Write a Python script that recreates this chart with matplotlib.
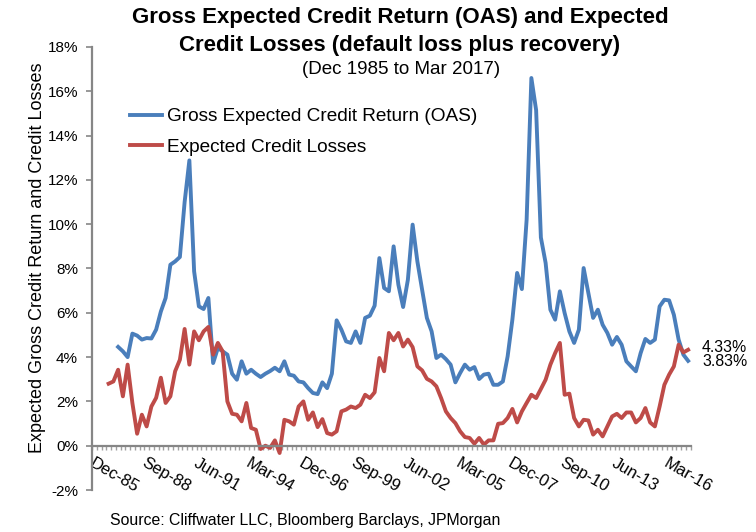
import numpy as np
import matplotlib
matplotlib.use("Agg")
import matplotlib.pyplot as plt

plt.rcParams['font.family'] = ['Liberation Sans', 'DejaVu Sans']

# Quarterly data, Dec-1985 .. Mar-2017 (126 quarters); NaN = no value
n_quarters = 126
oas = [np.nan] * 5 + [
    4.46, 4.26, 4.00, 5.06, 4.97, 4.79, 4.86, 4.84, 5.24, 6.06,
    6.67, 8.17, 8.32, 8.52, 11.0, 12.88, 7.87, 6.29, 6.17, 6.67,
    3.73, 4.41, 4.26, 4.11, 3.25, 2.98, 3.81, 3.25, 3.43, 3.25,
    3.10, 3.25, 3.37, 3.52, 3.36, 3.81, 3.21, 3.16, 2.90, 2.86,
    2.60, 2.38, 2.33, 2.86, 2.60, 3.25, 5.66, 5.24, 4.71, 4.64,
    5.16, 4.64, 5.77, 5.87, 6.32, 8.47, 7.12, 6.97, 9.00, 7.27,
    6.26, 7.49, 9.98, 8.32, 7.04, 5.77, 5.16, 3.96, 4.11, 3.91,
    3.66, 2.86, 3.28, 3.66, 3.43, 3.55, 3.01, 3.21, 3.25, 2.75,
    2.75, 2.90, 4.03, 5.69, 7.80, 7.07, 10.2, 16.6, 15.15, 9.4,
    8.25, 6.14, 5.69, 6.97, 5.99, 5.16, 4.64, 5.24, 8.02, 6.89,
    5.77, 6.14, 5.46, 5.09, 4.56, 4.91, 4.56, 3.81, 3.58, 3.36,
    4.18, 4.82, 4.64, 4.79, 6.29, 6.59, 6.56, 5.91, 4.79, 4.11,
    3.83]
losses = [np.nan] * 3 + [
    2.80, 2.90, 3.43, 2.23, 3.66, 1.93, 0.54, 1.40, 0.87, 1.77,
    2.16, 3.07, 1.93, 2.23, 3.36, 3.88, 5.27, 3.66, 5.16, 4.76,
    5.16, 5.36, 4.11, 4.64, 4.26, 2.00, 1.44, 1.40, 1.10, 1.93,
    0.80, 0.72, -0.15, 0.00, -0.10, 0.24, -0.33, 1.17, 1.10, 0.95,
    1.77, 2.00, 1.17, 1.50, 0.84, 1.20, 0.57, 0.50, 0.65, 1.55,
    1.63, 1.77, 1.70, 1.85, 2.30, 2.15, 2.41, 3.96, 3.36, 5.09,
    4.76, 5.09, 4.48, 4.79, 4.45, 3.58, 3.40, 3.02, 2.90, 2.68,
    2.15, 1.55, 1.25, 1.02, 0.65, 0.39, 0.35, 0.09, 0.35, 0.05,
    0.24, 0.24, 0.99, 1.02, 1.25, 1.66, 1.05, 1.55, 1.93, 2.30,
    2.15, 2.56, 2.98, 3.66, 4.18, 4.64, 2.30, 2.35, 1.25, 0.87,
    1.17, 1.14, 0.50, 0.72, 0.42, 0.87, 1.32, 1.44, 1.25, 1.50,
    1.50, 1.05, 1.25, 1.70, 1.05, 0.87, 1.77, 2.75, 3.21, 3.58,
    4.56, 4.21, 4.33]
tick_labels = ['Dec-85', 'Sep-88', 'Jun-91', 'Mar-94', 'Dec-96', 'Sep-99',
               'Jun-02', 'Mar-05', 'Dec-07', 'Sep-10', 'Jun-13', 'Mar-16']
tick_step = 11
end_labels = ['4.33%', '3.83%']

series_names = ['Gross Expected Credit Return (OAS)', 'Expected Credit Losses']
blue = '#4A7EBB'
red = '#BE4B48'
axis_gray = '#868686'

x = np.arange(n_quarters)

fig = plt.figure(figsize=(7.56, 5.32), dpi=100)
ax = fig.add_axes([92/756, 42/532, 598.5/756, 443/532])

l1, = ax.plot(x, oas, color=blue, lw=2.8, solid_joinstyle='round', label=series_names[0])
l2, = ax.plot(x, losses, color=red, lw=2.8, solid_joinstyle='round', label=series_names[1])

ax.set_xlim(-0.5, n_quarters - 0.5)
ax.set_ylim(-2, 18)
ax.set_yticks(np.arange(-2, 19, 2))
ax.set_yticklabels([f'{v}%' for v in range(-2, 19, 2)], fontsize=11)

ax.spines['top'].set_visible(False)
ax.spines['right'].set_visible(False)
ax.spines['bottom'].set_position(('data', 0))
for s in ('left', 'bottom'):
    ax.spines[s].set_color(axis_gray)
    ax.spines[s].set_linewidth(1.6)

ax.tick_params(axis='y', direction='out', length=4, width=1.2, color=axis_gray, pad=6)

ax.set_xticks(x[::tick_step])
ax.set_xticklabels(tick_labels, rotation=-30, ha='left', va='top',
                   rotation_mode='anchor', fontsize=12)
ax.set_xticks(np.arange(-0.5, n_quarters, 1), minor=True)
ax.tick_params(axis='x', which='major', length=0, pad=7)
ax.tick_params(axis='x', which='minor', direction='out', length=3, width=1.0, color='#a0a0a0')

ax.set_ylabel('Expected Gross Credit Return and Credit Losses', fontsize=13)
ax.yaxis.set_label_coords(-0.077, 0.524)

fig.text(400/756, 1 - 18/532, 'Gross Expected Credit Return (OAS) and Expected',
         ha='center', va='center', fontsize=16, fontweight='bold')
fig.text(400/756, 1 - 45/532, 'Credit Losses (default loss plus recovery)',
         ha='center', va='center', fontsize=16, fontweight='bold')
fig.text(401/756, 1 - 70/532, '(Dec 1985 to Mar 2017)',
         ha='center', va='center', fontsize=13.5)

leg = fig.legend(handles=[l1, l2], loc='center left',
                 bbox_to_anchor=(130/756, 1 - 132/532), frameon=False,
                 fontsize=13.7, handlelength=1.7, handletextpad=0.25,
                 labelspacing=0.7, borderpad=0, borderaxespad=0)

fig.text(702/756, 1 - 348/532, end_labels[0], ha='left', va='center', fontsize=11.4)
fig.text(702/756, 1 - 362/532, end_labels[1], ha='left', va='center', fontsize=11.4)

fig.text(110/756, 1 - 520/532, 'Source: Cliffwater LLC, Bloomberg Barclays, JPMorgan',
         ha='left', va='center', fontsize=11.4)

fig.savefig('out.png', dpi=100)
